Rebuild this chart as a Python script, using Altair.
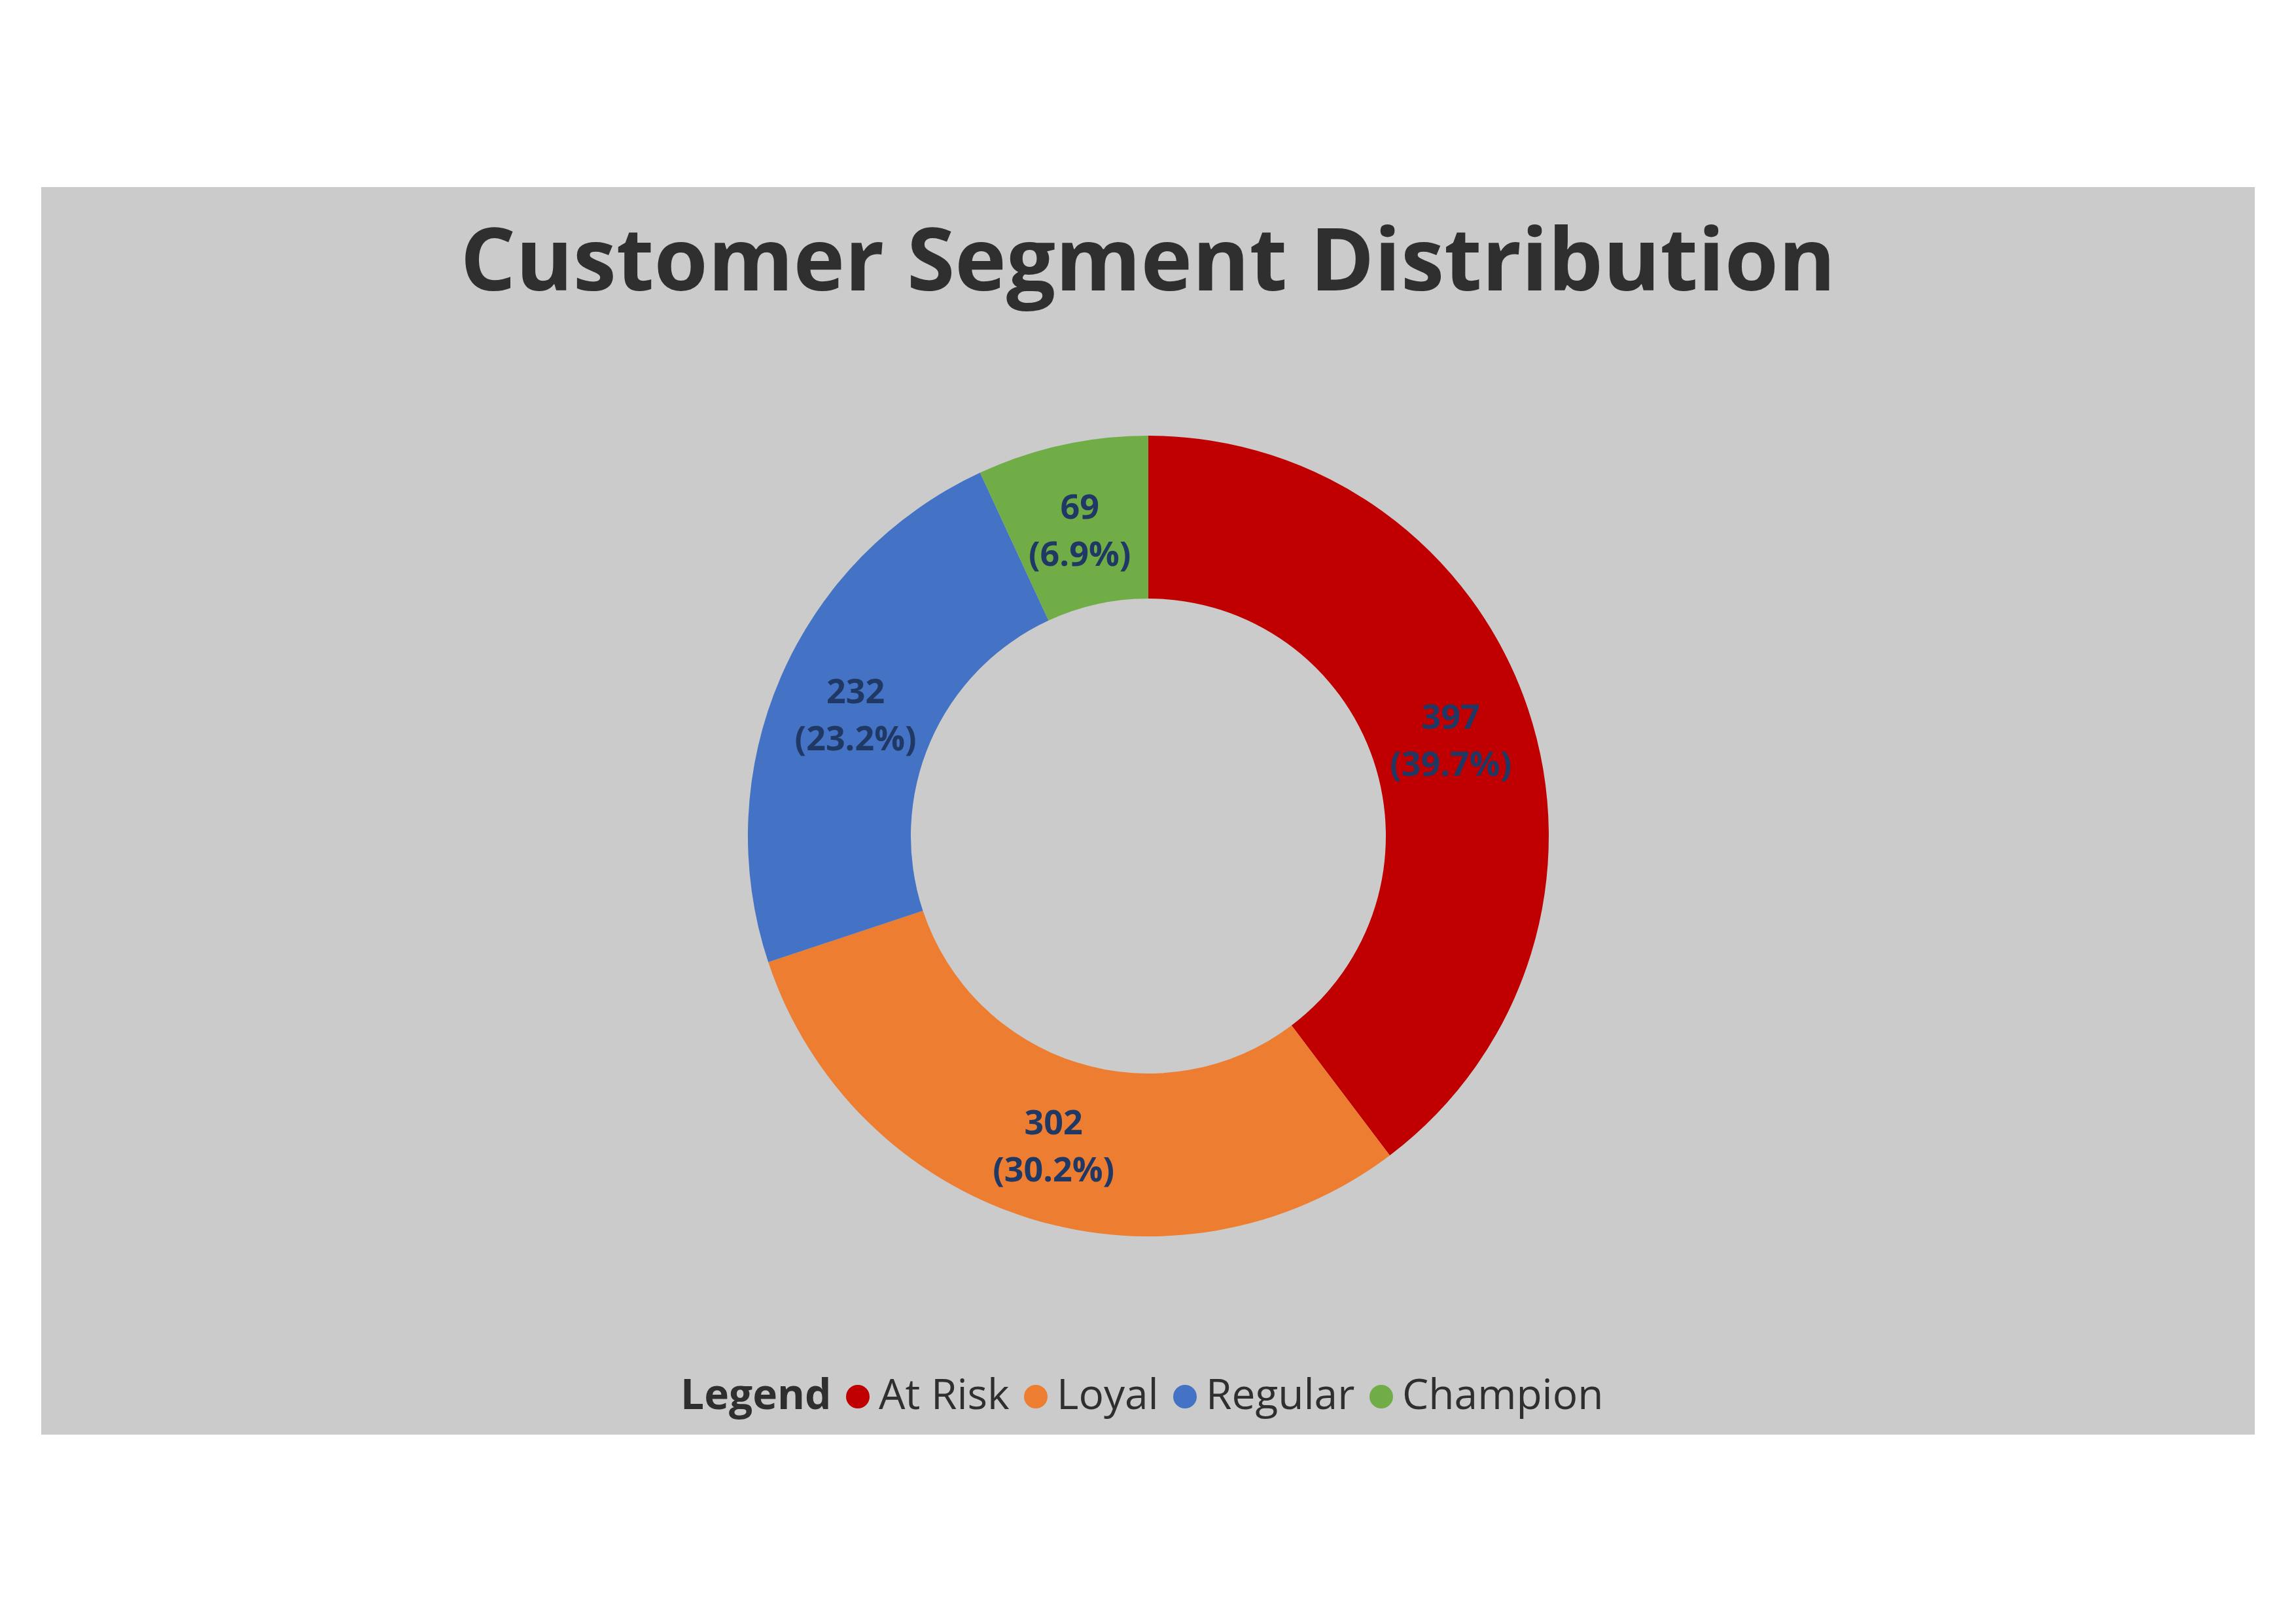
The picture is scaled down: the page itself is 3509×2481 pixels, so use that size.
import altair as alt
import pandas as pd

segments = ["At Risk", "Loyal", "Regular", "Champion"]
counts = [397, 302, 232, 69]
colors = ["#C00000", "#ED7D31", "#4472C4", "#70AD47"]
title_text = "Customer Segment Distribution"

total = sum(counts)
df = pd.DataFrame({
    "segment": segments,
    "count": counts,
    "order": list(range(len(segments))),
    "label": [f"{c}\n({c / total * 100:.1f}%)" for c in counts],
})

W, H = 3383, 1907
CX, CY = 1692, 992
R_OUT, R_IN = 612, 363
FONT = "Open Sans"

base = alt.Chart(df).encode(
    theta=alt.Theta("count:Q", stack=True),
    order=alt.Order("order:Q"),
)

arcs = base.mark_arc(
    outerRadius=R_OUT, innerRadius=R_IN, x=CX, y=CY, strokeWidth=0
).encode(
    color=alt.Color(
        "segment:N",
        scale=alt.Scale(domain=segments, range=colors),
        sort=segments,
        legend=alt.Legend(
            title="Legend",
            orient="none",
            legendX=977,
            legendY=1817,
            direction="horizontal",
            titleOrient="left",
            titleFont=FONT,
            titleFontSize=64,
            titleFontWeight="bold",
            titleColor="#2F2F2F",
            titlePadding=8,
            titleLimit=0,
            labelFont=FONT,
            labelFontSize=64,
            labelColor="#2F2F2F",
            labelOffset=0,
            labelLimit=0,
            symbolType="circle",
            symbolSize=1296,
            symbolStrokeWidth=0,
            columnPadding=8,
            padding=0,
        ),
    )
)

labels = base.mark_text(
    radius=(R_OUT + R_IN) / 2,
    x=CX,
    y=CY,
    dy=-25,
    font=FONT,
    fontSize=52,
    fontWeight="bold",
    color="#1F3864",
    lineBreak="\n",
    lineHeight=72,
    align="center",
    baseline="middle",
).encode(text="label:N")

title = alt.Chart(pd.DataFrame({"t": [title_text]})).mark_text(
    font=FONT,
    fontSize=133,
    fontWeight="bold",
    color="#2F2F2F",
    align="center",
    baseline="alphabetic",
).encode(text="t:N", x=alt.value(W / 2), y=alt.value(158))

chart = alt.layer(arcs, labels, title).properties(
    width=W,
    height=H,
    background="white",
    padding={"left": 55, "top": 278, "right": 55, "bottom": 270},
).configure_view(fill="#CBCBCB", stroke=None, strokeWidth=0)

chart.save("out.html", embed_options={"renderer": "svg", "actions": False})
